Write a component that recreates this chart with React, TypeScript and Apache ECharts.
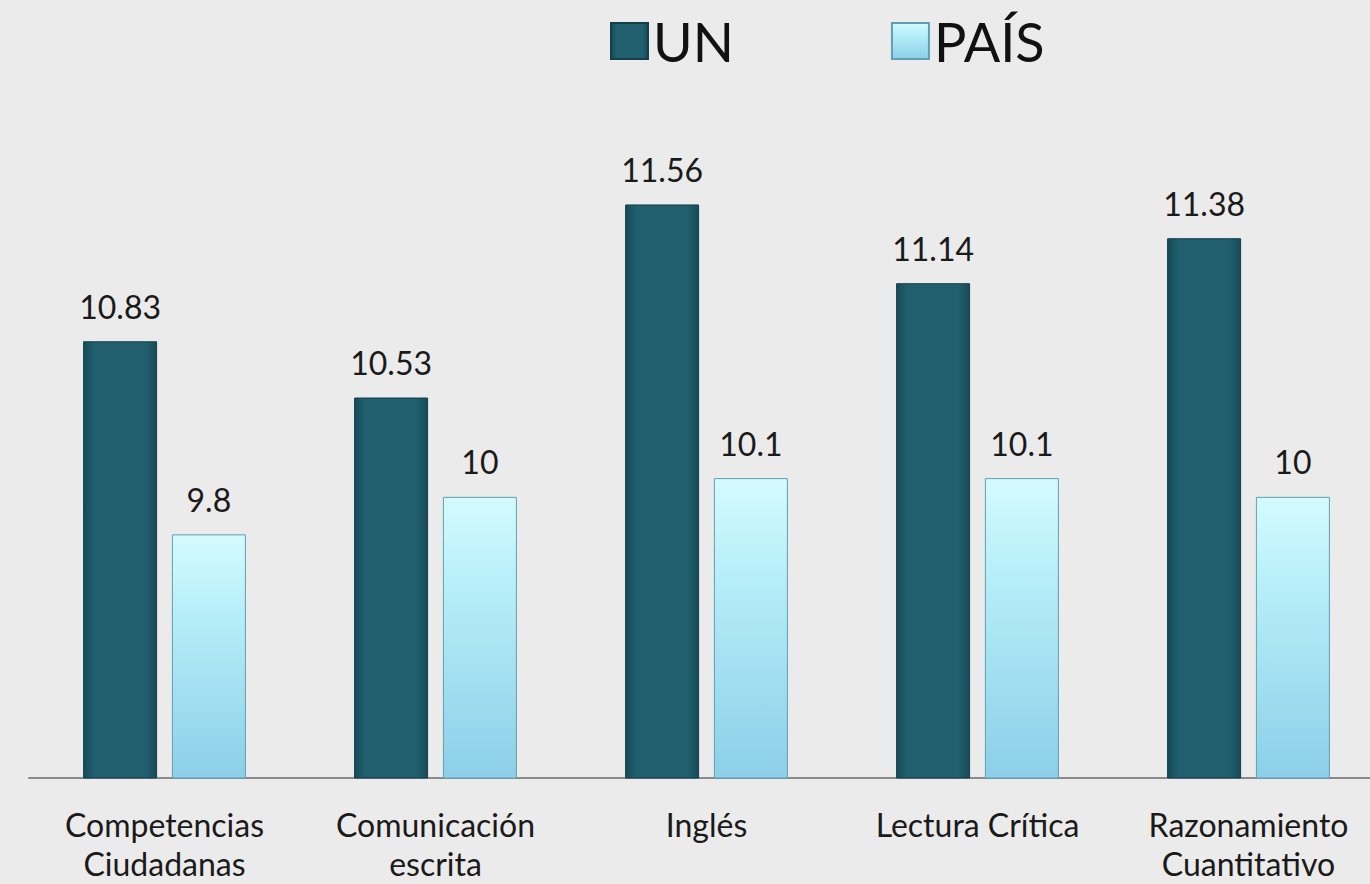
import React, { useEffect, useRef } from "react";
import * as echarts from "echarts";

const categories = [
  "Competencias\nCiudadanas",
  "Comunicación\nescrita",
  "Inglés",
  "Lectura Crítica",
  "Razonamiento\nCuantitativo",
];
const unValues = [10.83, 10.53, 11.56, 11.14, 11.38];
const paisValues = [9.8, 10, 10.1, 10.1, 10];
const seriesNames = ["UN", "PAÍS"];

const FONT = "Lato, 'Open Sans', sans-serif";

export default function App() {
  const ref = useRef<HTMLDivElement>(null);
  useEffect(() => {
    const chart = echarts.init(ref.current!, null, { renderer: "svg", width: 1370, height: 884 });
    const darkGrad = new echarts.graphic.LinearGradient(0, 0, 1, 0, [
      { offset: 0, color: "#164b58" },
      { offset: 0.15, color: "#215f6e" },
      { offset: 0.85, color: "#215f6e" },
      { offset: 1, color: "#164b58" },
    ]);
    const lightGrad = new echarts.graphic.LinearGradient(0, 0, 0, 1, [
      { offset: 0, color: "#d4fbff" },
      { offset: 0.3, color: "#b8eff9" },
      { offset: 1, color: "#8ccfe8" },
    ]);
    const valueLabel = {
      show: true,
      position: "top",
      distance: 19,
      fontSize: 32,
      color: "#1a1a1a",
      fontFamily: FONT,
    };
    chart.setOption({
      animation: false,
      backgroundColor: "#ebebeb",
      textStyle: { fontFamily: FONT },
      legend: {
        data: seriesNames,
        left: 605,
        top: 9,
        itemWidth: 37,
        itemHeight: 36,
        itemGap: 157,
        icon: "rect",
        textStyle: { fontSize: 54, color: "#111", fontFamily: FONT },
      },
      grid: {
        left: 29,
        width: 1355,
        top: 122,
        bottom: 106,
        containLabel: false,
        outerBoundsMode: "none",
      },
      xAxis: {
        type: "category",
        data: categories,
        axisLine: { show: true, lineStyle: { color: "#8a8a8a", width: 2 } },
        axisTick: { show: false },
        axisLabel: {
          fontSize: 32,
          color: "#1a1a1a",
          lineHeight: 39,
          margin: 27,
          interval: 0,
          fontFamily: FONT,
        },
      },
      yAxis: {
        type: "value",
        min: 8.5,
        max: 12,
        show: false,
        splitLine: { show: false },
      },
      series: [
        {
          name: seriesNames[0],
          type: "bar",
          data: unValues,
          barWidth: 74,
          barGap: "20%",
          itemStyle: { color: darkGrad, borderColor: "#123f4a", borderWidth: 1 },
          label: valueLabel,
        },
        {
          name: seriesNames[1],
          type: "bar",
          data: paisValues,
          barWidth: 74,
          itemStyle: { color: lightGrad, borderColor: "#5f9fb6", borderWidth: 1 },
          label: valueLabel,
        },
      ],
    });
    return () => chart.dispose();
  }, []);
  return (
    <>
      <style>{"html,body{margin:0;padding:0;overflow:hidden;background:#ebebeb}"}</style>
      <div ref={ref} style={{ position: "relative", width: 1370, height: 884, overflow: "hidden" }} />
    </>
  );
}
